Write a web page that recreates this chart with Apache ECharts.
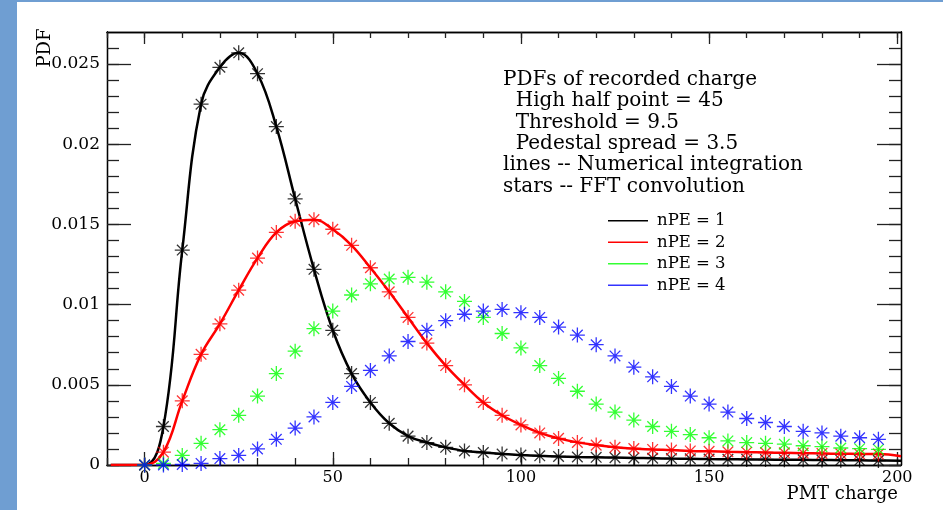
<!DOCTYPE html>
<html>
<head>
<meta charset="utf-8">
<script src="https://cdn.jsdelivr.net/npm/echarts@6/dist/echarts.min.js"></script>
<style>
  html, body { margin: 0; padding: 0; background: #fff; }
  #view { width: 943px; height: 510px; }
</style>
</head>
<body>
<div id="view"></div>
<script>
// PMT charge sample points (stars every 5 units)
var charge = [0, 5, 10, 15, 20, 25, 30, 35, 40, 45, 50, 55, 60, 65, 70, 75, 80, 85, 90, 95,
    100, 105, 110, 115, 120, 125, 130, 135, 140, 145, 150, 155, 160, 165, 170, 175, 180, 185, 190, 195];

var pe1 = [0, 0.0024, 0.0134, 0.0225, 0.0248, 0.0257, 0.0244, 0.0211, 0.0166, 0.0122,
    0.0084, 0.0057, 0.0039, 0.0026, 0.0018, 0.0014, 0.0011, 0.00088, 0.00078, 0.00068,
    0.00062, 0.00057, 0.00053, 0.0005, 0.00048, 0.00046, 0.00044, 0.00042, 0.0004, 0.00039,
    0.00037, 0.00036, 0.00035, 0.00034, 0.00033, 0.00032, 0.00031, 0.0003, 0.00029, 0.00028];

var pe2 = [0, 0.0008, 0.004, 0.0069, 0.0088, 0.0109, 0.0129, 0.0145, 0.0152, 0.0153,
    0.0147, 0.0137, 0.0123, 0.0108, 0.0092, 0.0076, 0.0062, 0.005, 0.0039, 0.0031,
    0.0025, 0.002, 0.00166, 0.00141, 0.00124, 0.0011, 0.00103, 0.00097, 0.00093, 0.00088,
    0.00085, 0.00082, 0.0008, 0.00078, 0.00076, 0.00074, 0.00072, 0.0007, 0.00069, 0.00068];

var pe3 = [0, 0.0001, 0.0006, 0.00135, 0.0022, 0.0031, 0.0043, 0.0057, 0.0071, 0.0085,
    0.0096, 0.0106, 0.0113, 0.0116, 0.0117, 0.0114, 0.0108, 0.0102, 0.0092, 0.0082,
    0.0073, 0.0062, 0.0054, 0.0046, 0.0038, 0.0033, 0.0028, 0.0024, 0.0021, 0.0019,
    0.0017, 0.0015, 0.0014, 0.00135, 0.0013, 0.0012, 0.00114, 0.00106, 0.00102, 0.00097];

var pe4 = [0, 0, 0.00003, 0.0001, 0.0004, 0.0006, 0.001, 0.0016, 0.0023, 0.003,
    0.0039, 0.0049, 0.0059, 0.0068, 0.0077, 0.0084, 0.009, 0.0094, 0.0096, 0.0097,
    0.0095, 0.0092, 0.0086, 0.0081, 0.0075, 0.0068, 0.0061, 0.0055, 0.0049, 0.0043,
    0.0038, 0.0033, 0.0029, 0.00265, 0.0024, 0.0021, 0.002, 0.0018, 0.0017, 0.0016];

// where the integration lines start / end
var lineStart = [-9, 0];
var pe1End = [201, 0.00027];
var pe2End = [201, 0.00055];

var names = ["nPE = 1", "nPE = 2", "nPE = 3", "nPE = 4"];
var colors = ["#000000", "#ff0000", "#00ff00", "#0000ff"];

var xMajor = [0, 50, 100, 150, 200];
var xMinor = [-10, 0, 10, 20, 30, 40, 50, 60, 70, 80, 90, 100, 110, 120, 130, 140, 150, 160, 170, 180, 190, 200];
var yMajor = [0, 0.005, 0.01, 0.015, 0.02, 0.025];
var yMinor = [0, 0.001, 0.002, 0.003, 0.004, 0.005, 0.006, 0.007, 0.008, 0.009, 0.01, 0.011, 0.012, 0.013,
    0.014, 0.015, 0.016, 0.017, 0.018, 0.019, 0.02, 0.021, 0.022, 0.023, 0.024, 0.025, 0.026];

var noteLines = [
    "PDFs of recorded charge",
    "  High half point = 45",
    "  Threshold = 9.5",
    "  Pedestal spread = 3.5",
    "lines -- Numerical integration",
    "stars -- FFT convolution"
];

var serif = "DejaVu Serif";
var star = 'path://M0,-10L0,10M-10,0L10,0M-7.07,-7.07L7.07,7.07M-7.07,7.07L7.07,-7.07';

function pts(ys, first, last) {
    var out = [];
    if (first) out.push(first);
    for (var i = 0; i < charge.length; i++) out.push([charge[i], ys[i]]);
    if (last) out.push(last);
    return out;
}

function xAx(pos, vals, len, labels) {
    return {
        type: 'value', position: pos, min: -10, max: 201,
        axisLine: { show: true, onZero: false, lineStyle: { color: '#000', width: 1.3 } },
        axisTick: { show: true, inside: true, length: len, customValues: vals, lineStyle: { color: '#222', width: 1.3 } },
        axisLabel: labels ? { show: true, customValues: vals, margin: 5, color: '#000', fontFamily: serif, fontSize: 16 } : { show: false },
        splitLine: { show: false }
    };
}

function yAx(pos, vals, len, labels) {
    return {
        type: 'value', position: pos, min: 0, max: 0.027,
        axisLine: { show: true, onZero: false, lineStyle: { color: '#000', width: 1.3 } },
        axisTick: { show: true, inside: true, length: len, customValues: vals, lineStyle: { color: '#222', width: 1.3 } },
        axisLabel: labels ? {
            show: true, customValues: vals, margin: 7, color: '#000', fontFamily: serif, fontSize: 17,
            formatter: function (v) { return v === 0 ? '0' : String(+v.toFixed(3)); }
        } : { show: false },
        splitLine: { show: false }
    };
}

var graphics = [
    { type: 'rect', shape: { x: 0, y: 0, width: 17, height: 510 }, style: { fill: '#6f9ed2' }, silent: true },
    { type: 'rect', shape: { x: 0, y: 0, width: 943, height: 2 }, style: { fill: '#6f9ed2' }, silent: true },
    {
        type: 'text', x: 45, y: 48, rotation: Math.PI / 2,
        style: { text: 'PDF', fontFamily: serif, fontSize: 18, fill: '#000', align: 'center', verticalAlign: 'middle' }
    },
    {
        type: 'text', x: 898, y: 494,
        style: { text: 'PMT charge', fontFamily: serif, fontSize: 18, fill: '#000', align: 'right', verticalAlign: 'middle' }
    }
];
noteLines.forEach(function (t, i) {
    graphics.push({
        type: 'text', x: 503, y: 79.5 + i * 21.4,
        style: { text: t, fontFamily: serif, fontSize: 20, fill: '#000', align: 'left', verticalAlign: 'middle' }
    });
});

var series = [
    {
        name: names[0], type: 'line', data: pts(pe1, lineStart, pe1End), showSymbol: false,
        smooth: 0.4, color: colors[0], lineStyle: { width: 2.5 }, z: 2, animation: false
    },
    {
        name: names[1], type: 'line', data: pts(pe2, lineStart, pe2End), showSymbol: false,
        smooth: 0.4, color: colors[1], lineStyle: { width: 2.5 }, z: 2, animation: false
    }
];
[pe1, pe2, pe3, pe4].forEach(function (ys, i) {
    series.push({
        name: names[i], type: 'scatter', data: pts(ys), symbol: star, symbolSize: 15,
        itemStyle: { color: 'transparent', borderColor: colors[i], borderWidth: 1.3 },
        z: 3 + i, animation: false
    });
});

option = {
    backgroundColor: '#fff',
    animation: false,
    grid: { left: 107, right: 42, top: 32, bottom: 45, containLabel: false },
    xAxis: [
        xAx('bottom', xMajor, 13, true),
        xAx('bottom', xMinor, 7, false),
        xAx('top', xMajor, 12, false),
        xAx('top', xMinor, 6, false)
    ],
    yAxis: [
        yAx('left', yMajor, 24, true),
        yAx('left', yMinor, 12, false),
        yAx('right', yMajor, 24, false),
        yAx('right', yMinor, 12, false)
    ],
    legend: {
        left: 603, top: 205, orient: 'vertical', itemGap: 0,
        itemWidth: 40, itemHeight: 1.5, icon: 'rect',
        textStyle: { fontFamily: serif, fontSize: 16.5, color: '#000', lineHeight: 21.5, padding: [0, 0, 0, 4] },
        data: names.map(function (n, i) { return { name: n, itemStyle: { color: colors[i], borderWidth: 0 } }; })
    },
    graphic: graphics,
    series: series
};

echarts.init(document.getElementById("view")).setOption(option);
</script>
</body>
</html>
